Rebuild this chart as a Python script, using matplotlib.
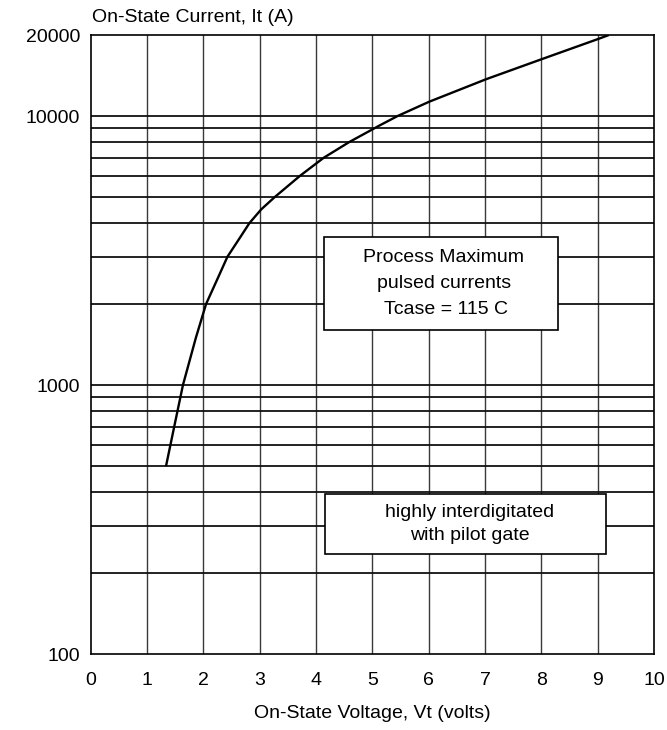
import matplotlib
matplotlib.use("Agg")
import matplotlib.pyplot as plt
from matplotlib.patches import Rectangle
import numpy as np

plt.rcParams['font.family'] = ['Liberation Sans', 'DejaVu Sans']

# Data
voltage = [1.34, 1.485, 1.64, 1.87, 2.05, 2.26, 2.43, 2.64, 2.82, 3.03, 3.27, 3.72, 4.14,
           4.59, 5.12, 5.45, 6.01, 7.02, 8.02, 9.0, 9.2]
current = [500, 700, 1000, 1500, 2000, 2500, 3000, 3500, 4000, 4500, 5000, 6000, 7000,
           8000, 9200, 10000, 11300, 13700, 16300, 19300, 20000]

x_ticks = list(range(0, 11))
y_ticks = [100, 1000, 10000, 20000]
y_tick_labels = ["100", "1000", "10000", "20000"]
h_grid = [200, 300, 400, 500, 600, 700, 800, 900,
          1000, 2000, 3000, 4000, 5000, 6000, 7000, 8000, 9000, 10000]

box1_text = "Process Maximum\npulsed currents\n Tcase = 115 C"
box2_text = "highly interdigitated\nwith pilot gate"

W, H = 667, 730
fig = plt.figure(figsize=(W / 100, H / 100), dpi=100)
ax = fig.add_axes([90.5 / W, (H - 654.3) / H, (654 - 90.5) / W, (654.3 - 35) / H])

ax.set_yscale('log')
ax.set_xlim(0, 10)
ax.set_ylim(100, 20000)

for xv in x_ticks[1:-1]:
    ax.axvline(xv, color='#3a3a3a', lw=1.0, zorder=1)
for yv in h_grid:
    ax.axhline(yv, color='#111111', lw=1.3, zorder=1)

ax.plot(voltage, current, color='black', lw=1.7, zorder=3, solid_capstyle='butt',
        solid_joinstyle='round')

ax.set_xticks(x_ticks)
ax.set_xticklabels([str(v) for v in x_ticks])
ax.set_yticks(y_ticks)
ax.set_yticklabels(y_tick_labels)
ax.yaxis.set_minor_locator(matplotlib.ticker.NullLocator())
ax.tick_params(axis='both', length=0, labelsize=14)
ax.tick_params(axis='x', pad=13)
ax.tick_params(axis='y', pad=7.5)

for s in ax.spines.values():
    s.set_color('black')
    s.set_linewidth(1.2)

# Annotation boxes
r1 = Rectangle((4.14, 1603), 8.30 - 4.14, 3556 - 1603, facecolor='white',
               edgecolor='black', lw=1.2, zorder=4)
ax.add_patch(r1)
ax.text((4.14 + 8.30) / 2 + 0.05, np.sqrt(1603 * 3556) * 1.0, box1_text, ha='center', va='center',
        multialignment='center', fontsize=14, linespacing=1.68, zorder=5)

r2 = Rectangle((4.16, 236), 9.15 - 4.16, 394 - 236, facecolor='white',
               edgecolor='black', lw=1.2, zorder=4)
ax.add_patch(r2)
ax.text((4.16 + 9.15) / 2 + 0.08, np.sqrt(236 * 394), box2_text, ha='center', va='center',
        multialignment='center', fontsize=14, linespacing=1.42, zorder=5)

fig.text(92 / W, 1 - 18 / H, "On-State Current, It (A)", ha='left', va='center', fontsize=14)
fig.text(372 / W, 1 - 713 / H, "On-State Voltage, Vt (volts)", ha='center', va='center', fontsize=14)

fig.savefig("out.png", dpi=100, facecolor='white')
